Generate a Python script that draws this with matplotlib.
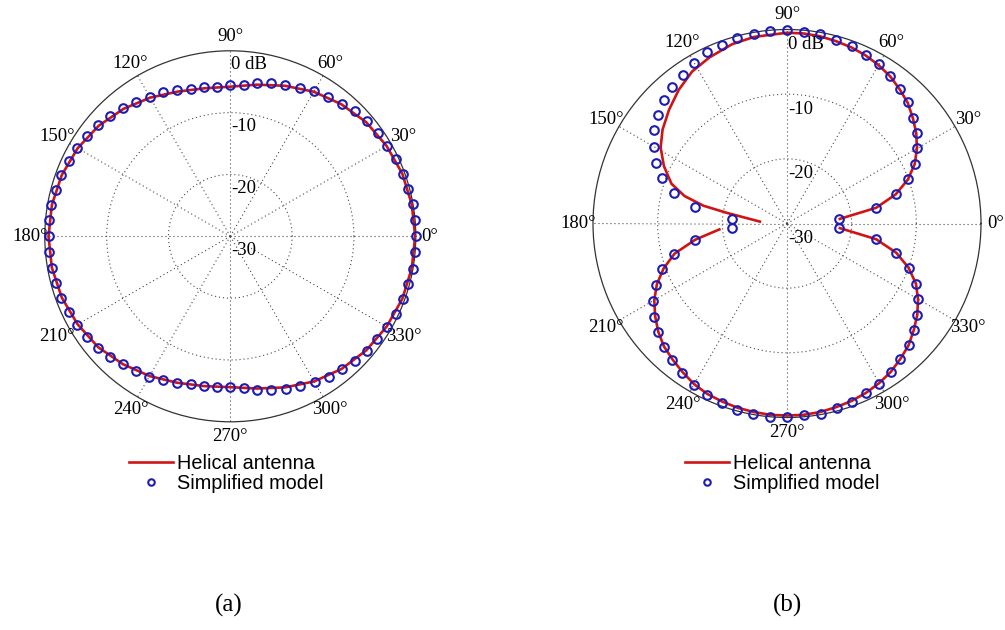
import numpy as np
import matplotlib

matplotlib.use("Agg")
import matplotlib.pyplot as plt

SERIF = ["Liberation Serif", "DejaVu Serif"]
SANS = ["Liberation Sans", "DejaVu Sans"]

RED = "#d01414"
BLUE = "#1c1cb4"
GRID = "#4a4a4a"

# model sampled every 5 deg, 0..355
MODEL_ANGLES = np.arange(0, 360, 5)

# (a) nearly omni pattern
A_MODEL_DB = [
    0.0, 0.0, 0.0, -0.3, -0.35, -0.4, -0.7, -0.8, -1.1, -1.4, -2.0, -2.4,
    -2.8, -3.5, -3.9, -4.4, -4.9, -5.4, -5.6, -5.7, -5.5, -5.3, -4.9, -4.3,
    -3.9, -3.4, -3.0, -2.5, -2.0, -1.7, -1.3, -1.2, -0.8, -0.8, -0.6, -0.6,
    -0.6, -0.6, -0.7, -0.8, -0.9, -1.2, -1.3, -1.7, -2.0, -2.5, -3.0, -3.5,
    -3.8, -4.4, -4.8, -5.2, -5.4, -5.6, -5.6, -5.3, -4.8, -4.3, -3.8, -3.3,
    -2.7, -2.3, -1.9, -1.5, -1.2, -1.0, -0.7, -0.4, -0.3, -0.3, 0.0, 0.0,
]
A_LINE_ANGLES = [0, 10, 20, 30, 40, 50, 60, 70, 80, 90, 100, 110, 120, 130, 140, 150,
                 160, 170, 180, 190, 200, 210, 220, 230, 240, 250, 260, 270, 280, 290,
                 300, 310, 320, 330, 340, 350, 360]
A_LINE_DB = [-0.1, -0.2, -0.4, -0.8, -1.3, -2.1, -3.0, -4.1, -5.1, -5.8, -5.7, -5.1,
             -4.1, -3.1, -2.2, -1.5, -1.0, -0.7, -0.6, -0.7, -1.0, -1.5, -2.1, -3.0,
             -3.9, -4.8, -5.4, -5.6, -5.0, -4.0, -2.9, -2.0, -1.3, -0.8, -0.4, -0.2, -0.1]

# (b) figure-eight pattern, nulls at 0 / 180 deg (below the -30 dB floor)
B_MODEL_DB = [
    np.nan, -22.0, -16.0, -12.6, -10.1, -8.2, -6.7, -5.5, -4.5, -3.5, -2.8, -2.1,
    -1.5, -1.2, -0.8, -0.6, -0.2, -0.2, -0.1, -0.1, -0.2, -0.3, -0.7, -0.8,
    -1.3, -1.9, -2.4, -3.1, -4.0, -4.9, -6.2, -7.7, -9.5, -11.9, -15.5, -21.5,
    np.nan, -21.5, -15.5, -11.9, -9.5, -7.6, -6.1, -4.9, -3.9, -3.0, -2.4, -1.8,
    -1.1, -0.7, -0.5, -0.2, -0.1, 0.0, -0.1, -0.2, -0.1, -0.4, -0.7, -1.1,
    -1.4, -2.0, -2.7, -3.4, -4.4, -5.4, -6.6, -8.0, -10.0, -12.5, -16.0, -22.0,
]
B_LINE_ANGLES = [5, 10, 15, 20, 25, 30, 35, 40, 45, 50, 55, 60, 65, 70, 75, 80, 85, 90,
                 100, 107, 115, 122, 129, 136, 143, 149, 155, 161, 165, 168, 170, 176,
                 180,
                 185, 190, 195, 200, 205, 210, 215, 220, 225, 230, 235, 240, 245, 250,
                 255, 260, 265, 270, 275, 280, 285, 290, 295, 300, 305, 310, 315, 320,
                 325, 330, 335, 340, 345, 350, 355]
B_LINE_DB = [-21.8, -16.0, -12.6, -10.1, -8.2, -6.8, -5.6, -4.6, -3.6, -2.9, -2.2, -1.7,
             -1.3, -1.0, -0.8, -0.6, -0.5, -0.5,
             -0.7, -1.0, -1.65, -2.3, -3.4, -4.65, -5.9, -7.2, -9.0, -11.1, -13.6, -16.8,
             -20.6, -25.8,
             np.nan,
             -19.5, -15.6, -12.0, -9.7, -7.8, -6.3, -5.1, -4.0, -3.1, -2.5, -1.9, -1.3,
             -0.9, -0.7, -0.5, -0.4, -0.3, -0.3, -0.3, -0.4, -0.6, -0.8, -1.1, -1.5,
             -2.0, -2.7, -3.4, -4.4, -5.4, -6.6, -8.0, -10.0, -12.5, -16.0, -21.8]

THETA_TICKS = [0, 30, 60, 90, 120, 150, 180, 210, 240, 270, 300, 330]
R_LABELS = [(0, "0 dB"), (-10, "-10"), (-20, "-20"), (-30, "-30")]
LEGEND_LABELS = ["Helical antenna", "Simplified model"]
CAPTIONS = ["(a)", "(b)"]


def polar_panel(fig, rect, line_ang, line_db, model_db, lab_off):
    ax = fig.add_axes(rect, projection="polar")
    ax.set_rlim(-30, 0)
    ax.set_rticks([-20, -10])
    ax.set_yticklabels([])
    ax.set_thetagrids(THETA_TICKS, labels=[])
    ax.grid(True, color=GRID, lw=0.8, ls=(0, (1, 2.6)))
    ax.spines["polar"].set_color("#333333")
    ax.spines["polar"].set_linewidth(0.9)

    (ln,) = ax.plot(np.deg2rad(line_ang), line_db, color=RED, lw=1.9, zorder=3)
    (mk,) = ax.plot(np.deg2rad(MODEL_ANGLES), model_db, ls="none", marker="o", ms=6.2,
                    mfc="none", mec=BLUE, mew=1.5, zorder=4, clip_on=False)

    for deg in THETA_TICKS:
        t = np.deg2rad(deg)
        ax.text(0.5 + 0.5385 * np.cos(t), 0.5 + 0.5385 * np.sin(t), f"{deg}°",
                transform=ax.transAxes, ha="center", va="center",
                family=SERIF, fontsize=13.5)
    for r, s in R_LABELS:
        ax.annotate(s, (np.pi / 2, r), xytext=(1, -lab_off), textcoords="offset pixels",
                    ha="left", va="center", family=SERIF, fontsize=13.5)
    return ax, ln, mk


fig = plt.figure(figsize=(10.05, 6.3), dpi=100)
W, H = 1005, 630

ax_a, ln_a, mk_a = polar_panel(
    fig, [44.8 / W, (H - 236.3 - 185.5) / H, 371 / W, 371 / H],
    A_LINE_ANGLES, A_LINE_DB, A_MODEL_DB, 14)
ax_b, ln_b, mk_b = polar_panel(
    fig, [593 / W, (H - 223.5 - 194) / H, 388 / W, 388 / H],
    B_LINE_ANGLES, B_LINE_DB, B_MODEL_DB, 15)

for (ln, mk), x0 in (((ln_a, mk_a), 129), ((ln_b, mk_b), 685)):
    fig.legend([ln, mk], LEGEND_LABELS, loc="upper left",
               bbox_to_anchor=(x0 / W, 1 - 454 / H), bbox_transform=fig.transFigure,
               frameon=False, prop={"family": SANS, "size": 14.3}, numpoints=1,
               markerscale=0.75, handlelength=2.2, handletextpad=0.2, labelspacing=0.05,
               borderpad=0, borderaxespad=0)

for cx, s in zip((229, 787), CAPTIONS):
    fig.text(cx / W, 1 - 605 / H, s, ha="center", va="center",
             family=SERIF, fontsize=18)

fig.savefig("out.png", dpi=100)
